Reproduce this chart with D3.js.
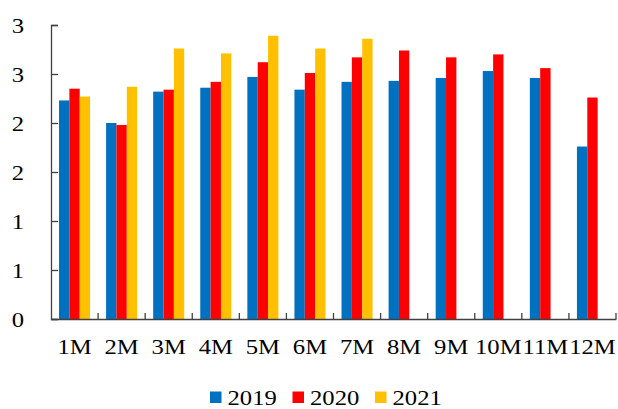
<!DOCTYPE html>
<html>
<head>
<meta charset="utf-8">
<script src="https://cdn.jsdelivr.net/npm/d3@7"></script>
<style>
html, body { margin: 0; padding: 0; background: #fff; }
svg { display: block; }
text { font-family: "Liberation Serif", "Times New Roman", serif; fill: #000; }
</style>
</head>
<body>
<svg id="chart" width="618" height="409"></svg>
<script>
const months = ["1M","2M","3M","4M","5M","6M","7M","8M","9M","10M","11M","12M"];
const seriesNames = ["2019","2020","2021"];
const values2019 = [2.23, 2.00, 2.32, 2.36, 2.47, 2.34, 2.42, 2.43, 2.46, 2.53, 2.46, 1.76];
const values2020 = [2.35, 1.98, 2.34, 2.42, 2.62, 2.51, 2.67, 2.74, 2.67, 2.70, 2.56, 2.26];
const values2021 = [2.27, 2.37, 2.76, 2.71, 2.89, 2.76, 2.86, null, null, null, null, null];
const yTickValues = [0, 0.5, 1, 1.5, 2, 2.5, 3];
const colors = ["#0070C0", "#FF0000", "#FFC000"];

(function () {
const seriesValues = [values2019, values2020, values2021];
const svg = d3.select("#chart");
const mLeft = 51, mRight = 616, mTop = 25, mBottom = 319;
const stretch = 1.12;

function widen(sel) {
  sel.each(function () {
    const len = this.getComputedTextLength();
    d3.select(this).attr("textLength", len * stretch).attr("lengthAdjust", "spacingAndGlyphs");
  });
}

const x = d3.scaleBand().domain(months).range([mLeft, mRight]).paddingInner(0).paddingOuter(0);
const x1 = d3.scaleBand().domain(seriesNames).range([0, x.bandwidth()]).paddingInner(0).paddingOuter(0.775);
const y = d3.scaleLinear().domain([0, 3]).range([mBottom, mTop]);
const color = d3.scaleOrdinal().domain(seriesNames).range(colors);

// bars
const groups = svg.append("g").selectAll("g").data(months).join("g")
  .attr("transform", d => `translate(${x(d)},0)`);
groups.selectAll("rect")
  .data((m, i) => seriesNames.map((s, k) => ({s, v: seriesValues[k][i]})).filter(d => d.v != null))
  .join("rect")
  .attr("x", d => x1(d.s))
  .attr("width", x1.bandwidth())
  .attr("y", d => y(d.v))
  .attr("height", d => y(0) - y(d.v))
  .attr("fill", d => color(d.s));

const axisColor = "#404040";

// y axis
const yAxis = svg.append("g").attr("transform", `translate(${mLeft},0)`)
  .call(d3.axisLeft(y).tickValues(yTickValues).tickFormat(d => Math.round(d)).tickSize(-7).tickPadding(27));
yAxis.attr("font-family", null);
yAxis.select(".domain").attr("stroke", axisColor).attr("stroke-width", 1.3);
yAxis.selectAll(".tick line").attr("stroke", axisColor).attr("stroke-width", 1.3);
yAxis.selectAll("text").attr("font-size", 22).attr("fill", "#000").call(widen);

// x axis
const xAxis = svg.append("g").attr("transform", `translate(0,${mBottom})`)
  .call(d3.axisBottom(x).tickSize(0).tickPadding(19.5));
xAxis.attr("font-family", null);
xAxis.select(".domain").attr("stroke", axisColor).attr("stroke-width", 1.3);
xAxis.selectAll("text").attr("font-size", 22).attr("fill", "#000").call(widen);
// boundary ticks (inward)
xAxis.append("g").selectAll("line").data(months).join("line")
  .attr("x1", d => x(d) + x.step()).attr("x2", d => x(d) + x.step())
  .attr("y1", 0).attr("y2", -6)
  .attr("stroke", axisColor).attr("stroke-width", 1.3);

// legend
const legend = svg.append("g").attr("transform", "translate(210,0)");
const items = legend.selectAll("g").data(seriesNames).join("g")
  .attr("transform", (d, i) => `translate(${i * 82.5},0)`);
items.append("rect").attr("x", 0).attr("y", 391.5).attr("width", 11.5).attr("height", 11.5)
  .attr("fill", d => color(d));
items.append("text").attr("x", 17.5).attr("y", 404.5).attr("font-size", 22).text(d => d).call(widen);
})();
</script>
</body>
</html>
